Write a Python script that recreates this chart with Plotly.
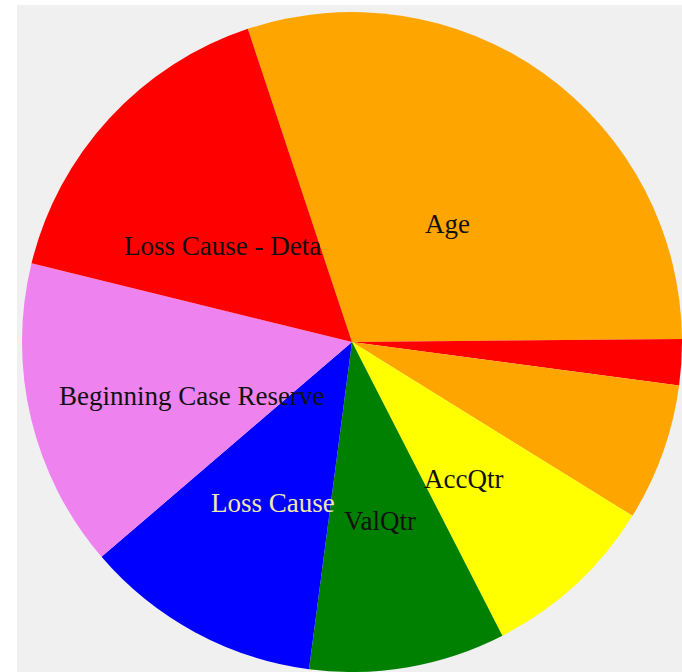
import numpy as np
import plotly.graph_objects as go

# share of importance per feature, clockwise from the top-left edge of "Age"
features = ["Age", "Other 1", "Other 2", "AccQtr", "ValQtr", "Loss Cause",
            "Beginning Case Reserve", "Loss Cause - Detail"]
importance = [29.97, 2.25, 6.72, 8.64, 9.61, 11.64, 15.11, 16.06]
slice_colors = ["#ffa500", "#ff0000", "#ffa500", "#ffff00", "#008000",
                "#0000ff", "#ee82ee", "#ff0000"]
# text that shows on each slice ("Loss Cause - Detail" is cut by the Age slice)
shown_text = ["Age", "", "", "AccQtr", "ValQtr", "Loss Cause",
              "Beginning Case Reserve", "Loss Cause - Deta"]
text_colors = ["#111", "#111", "#111", "#111", "#111", "#eee8aa", "#111", "#111"]

W, H = 682, 672
CX, CY, R = 352, 342, 330          # pie centre / radius in px
START = 341.6                      # angle of the first slice edge

fig = go.Figure(go.Pie(
    labels=features,
    values=importance,
    sort=False,
    direction="clockwise",
    rotation=START,
    marker=dict(colors=slice_colors, line=dict(width=0)),
    textinfo="none",
    hoverinfo="label+percent",
    domain=dict(x=[(CX - R) / W, (CX + R) / W],
                y=[1 - (CY + R) / H, 1 - (CY - R) / H]),
))

# labels at the arc centroid (half radius), nudged down like the original
vals = np.array(importance)
ends = START + np.cumsum(vals) / vals.sum() * 360
mids = ends - vals / vals.sum() * 360 / 2
for name, txt, col, ang in zip(features, shown_text, text_colors, mids):
    if not txt:
        continue
    th = np.radians(ang)
    px_x = CX + R / 2 * np.sin(th)
    px_y = CY - R / 2 * np.cos(th) + 16
    fig.add_annotation(
        x=px_x / W, y=1 - px_y / H, xref="paper", yref="paper",
        xanchor="center", yanchor="middle",
        text=txt, showarrow=False,
        xshift=-8 if txt != name else 0,
        font=dict(family="Liberation Serif", size=27, color=col),
    )

# light grey panel behind the pie, white strip on left / top
fig.add_shape(type="rect", xref="paper", yref="paper",
              x0=17 / W, x1=1, y0=0, y1=1 - 5 / H,
              line=dict(width=0), fillcolor="#f0f0f0", layer="below")

fig.update_layout(
    width=W, height=H,
    margin=dict(l=0, r=0, t=0, b=0),
    paper_bgcolor="white",
    showlegend=False,
)
fig.write_html("out.html", config={"displayModeBar": False},
               post_script="document.body.style.margin='0';")
